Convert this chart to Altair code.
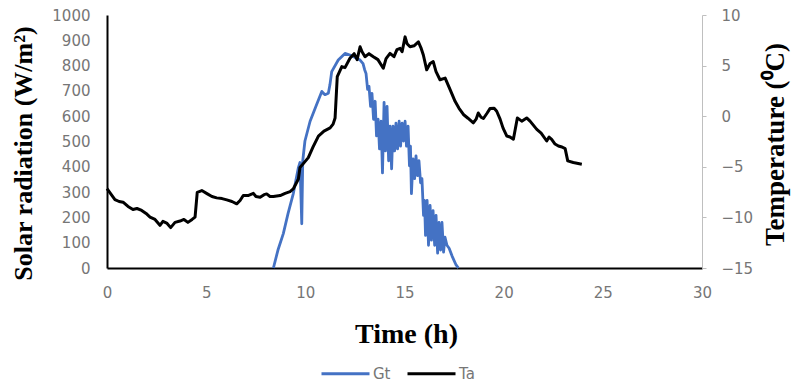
import altair as alt
import pandas as pd

# ---- data ----
ta_hour = [0.00, 0.40, 0.61, 0.81, 1.06, 1.31, 1.51, 1.75, 1.97, 2.17, 2.42, 2.67, 2.82, 3.01, 3.21,
           3.43, 3.68, 3.88, 4.08, 4.29, 4.44, 4.55, 4.78, 5.04, 5.29, 5.53, 5.80, 6.04, 6.30, 6.54,
           6.71, 6.87, 7.11, 7.38, 7.51, 7.72, 7.92, 8.05, 8.22, 8.39, 8.73, 8.98, 9.23, 9.39, 9.65,
           9.73, 9.93, 10.15, 10.39, 10.66, 10.94, 11.25, 11.40, 11.50, 11.61, 11.84, 12.00, 12.25,
           12.46, 12.61, 12.76, 12.86, 13.01, 13.21, 13.43, 13.66, 13.93, 14.07, 14.27, 14.47, 14.62,
           14.78, 14.88, 15.03, 15.13, 15.28, 15.48, 15.70, 15.83, 15.95, 16.12, 16.29, 16.45, 16.59,
           16.79, 17.05, 17.30, 17.55, 17.75, 17.97, 18.20, 18.47, 18.61, 18.72, 18.86, 18.98, 19.16,
           19.31, 19.52, 19.65, 19.82, 19.97, 20.16, 20.32, 20.49, 20.69, 20.91, 21.16, 21.33, 21.67,
           21.89, 22.17, 22.29, 22.42, 22.59, 22.76, 22.94, 23.10, 23.23, 23.51, 23.94]
ta_temp = [-7.16, -8.24, -8.43, -8.50, -8.92, -9.22, -9.12, -9.31, -9.61, -9.97, -10.20, -10.78, -10.39,
           -10.56, -11.01, -10.49, -10.36, -10.20, -10.49, -10.20, -9.97, -7.52, -7.35, -7.65, -7.94,
           -8.07, -8.14, -8.27, -8.43, -8.66, -8.33, -7.84, -7.84, -7.62, -7.94, -8.01, -7.75, -7.68,
           -7.94, -7.94, -7.84, -7.62, -7.45, -7.19, -6.21, -5.07, -4.61, -4.09, -3.04, -1.96, -1.47,
           -1.15, -0.78, -0.17, 3.92, 4.90, 4.80, 5.72, 6.18, 5.59, 6.86, 6.37, 5.88, 6.18, 5.88, 5.59,
           4.74, 5.69, 6.21, 5.88, 6.57, 6.70, 6.37, 7.84, 7.16, 6.86, 6.96, 7.35, 6.76, 6.05, 4.58,
           5.20, 5.39, 4.41, 3.60, 3.76, 2.62, 1.47, 0.78, 0.17, -0.20, -0.66, -0.29, 0.32, -0.10,
           -0.23, 0.29, 0.75, 0.78, 0.49, -0.29, -1.18, -1.96, -2.06, -2.28, -0.17, -0.49, -0.17,
           -0.49, -1.30, -1.67, -2.45, -2.06, -2.28, -2.75, -2.94, -3.04, -3.21, -4.41, -4.58, -4.74]

gt_hour = [8.39, 8.62, 8.89, 9.13, 9.39, 9.65, 9.73, 9.82, 9.87, 9.98, 10.24, 10.57, 10.83, 10.99,
           11.16, 11.24, 11.33, 11.66, 12.00, 12.25, 12.59, 12.76,
           12.91, 12.99, 13.06, 13.14, 13.21, 13.29, 13.36, 13.44, 13.52, 13.59, 13.67, 13.74,
           13.82, 13.89, 13.97, 14.04, 14.12, 14.20, 14.27, 14.35, 14.42, 14.50, 14.57, 14.65,
           14.73, 14.80, 14.88, 14.95, 15.03, 15.10, 15.18, 15.25, 15.30, 15.35, 15.43, 15.51,
           15.58, 15.66, 15.73, 15.81, 15.88, 15.96, 16.01, 16.06, 16.14, 16.21, 16.29, 16.36,
           16.44, 16.52, 16.59, 16.67, 16.74, 16.82, 16.89, 16.97, 17.04, 17.14, 17.25, 17.40,
           17.60, 17.72]
gt_rad = [0, 71, 136, 216, 293, 397, 417, 175, 424, 502, 580, 646, 698, 685,
          691, 724, 776, 822, 848, 842, 829, 822,
          808, 784, 769, 706, 718, 639, 690, 588, 659, 522, 588, 471,
          580, 376, 655, 463, 639, 424, 561, 392, 561, 463, 573, 471,
          580, 482, 573, 502, 580, 482, 561, 404, 482, 294, 431, 353,
          443, 365, 424, 337, 353, 208, 267, 129, 267, 90, 247, 110,
          227, 90, 208, 59, 180, 71, 180, 63, 122, 90, 78, 47,
          12, 0]

series_names = ["Gt", "Ta"]
series_colors = ["#4472C4", "#000000"]
x_ticks = [0, 5, 10, 15, 20, 25, 30]
rad_ticks = [0, 100, 200, 300, 400, 500, 600, 700, 800, 900, 1000]
temp_ticks = [-15, -10, -5, 0, 5, 10]

gt_df = pd.DataFrame({"hour": gt_hour, "rad": gt_rad, "series": "Gt"})
ta_df = pd.DataFrame({"hour": ta_hour, "temp": ta_temp, "series": "Ta"})

LABEL_FONT = "DejaVu Sans"
TITLE_FONT = "Liberation Serif"
LABEL_COLOR = "#767676"

x_enc = alt.X(
    "hour:Q",
    scale=alt.Scale(domain=[0, 30], nice=False, zero=False),
    axis=alt.Axis(
        values=x_ticks, ticks=False, grid=False, domainColor="#000000", domainWidth=2,
        labelFont=LABEL_FONT, labelFontSize=15, labelColor=LABEL_COLOR, labelPadding=17,
        labelFlush=False, labelOverlap=False, format="d",
        title="Time (h)", titleFont=TITLE_FONT, titleFontSize=28, titleFontWeight="bold",
        titleColor="#000000", titleX=299, titleY=66, titleAlign="center", titleBaseline="middle",
        titleAngle=0,
    ),
)

color_enc = alt.Color(
    "series:N",
    scale=alt.Scale(domain=series_names, range=series_colors),
    legend=alt.Legend(
        title=None, orient="none", legendX=213, legendY=333, direction="horizontal",
        symbolType="stroke", symbolSize=2304, symbolStrokeWidth=3, labelFont=LABEL_FONT,
        labelFontSize=15, labelColor=LABEL_COLOR, labelOffset=2, columnPadding=10, padding=0,
    ),
)

gt_line = alt.Chart(gt_df).mark_line(strokeWidth=2.8, strokeJoin="round").encode(
    x=x_enc,
    y=alt.Y(
        "rad:Q",
        scale=alt.Scale(domain=[0, 1000], nice=False),
        axis=alt.Axis(
            orient="left", values=rad_ticks, ticks=False, grid=False, domainColor="#000000",
            domainWidth=2, labelFont=LABEL_FONT, labelFontSize=15, labelColor=LABEL_COLOR,
            labelPadding=17, labelFlush=False, labelOverlap=False, format="d",
            title="Solar radiation (W/m²)", titleFont=TITLE_FONT,
            titleFontSize=26, titleFontWeight="bold", titleColor="#000000", titleX=-84,
            titleY=138, titleAngle=270, titleAlign="center", titleBaseline="middle",
        ),
    ),
    color=color_enc,
)

ta_line = alt.Chart(ta_df).mark_line(strokeWidth=3, strokeJoin="round").encode(
    x=x_enc,
    y=alt.Y(
        "temp:Q",
        scale=alt.Scale(domain=[-15, 10], nice=False, zero=False),
        axis=alt.Axis(
            orient="right", values=temp_ticks, ticks=True, tickSize=4, tickColor="#bfbfbf",
            grid=False, domainColor="#bfbfbf", domainWidth=1, labelFont=LABEL_FONT,
            labelFontSize=15, labelColor=LABEL_COLOR, labelPadding=15, labelFlush=False,
            labelOverlap=False, format="d",
            title="Temperature (⁰C)", titleFont=TITLE_FONT, titleFontSize=27,
            titleFontWeight="bold", titleColor="#000000", titleX=73, titleY=129,
            titleAngle=270, titleAlign="center", titleBaseline="middle",
        ),
    ),
    color=color_enc,
)

chart = (
    alt.layer(gt_line, ta_line)
    .resolve_scale(y="independent")
    .properties(
        width=595, height=253,
        autosize=alt.AutoSizeParams(type="none"),
        padding={"left": 99, "top": 7, "right": 90, "bottom": 116},
        background="#ffffff",
    )
    .configure_view(stroke=None)
)

chart.save("out.html", embed_options={"renderer": "svg", "actions": False})
